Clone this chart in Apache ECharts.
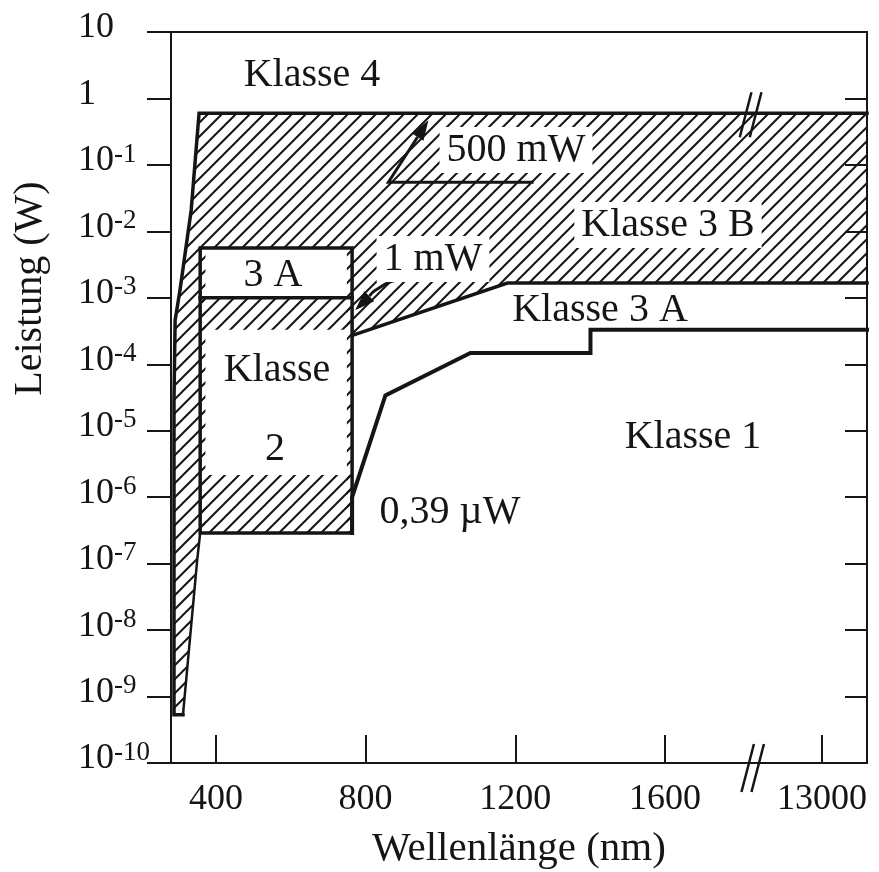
<!DOCTYPE html>
<html>
<head>
<meta charset="utf-8">
<title>Laserklassen</title>
<script src="https://cdn.jsdelivr.net/npm/echarts@6.0.0/dist/echarts.min.js"></script>
<style>
html,body{margin:0;padding:0;background:#ffffff;}
#chart{width:879px;height:872px;}
</style>
</head>
<body>
<div id="chart"></div>
<script>
// ---------------- data: wavelength (nm), power (W) ----------------
const xTickLabels = [400, 800, 1200, 1600, 13000];

// hatched area (class 3 B incl. UV strip)
const klasse3B_nm = [355, 13120, 13120, 1179, 767, 764, 764, 358, 358, 350, 312, 288, 288, 291, 304, 334];
const klasse3B_W  = [0.6, 0.6, 1.67e-3, 1.67e-3, 2.75e-4, 2.75e-4, 5.6e-3, 5.6e-3, 2.9e-7, 1.13e-7, 5.3e-10, 5.3e-10, 2.9e-5, 4.6e-4, 1.3e-3, 0.021];

// upper limit of class 3 B and left (UV) edge
const limit3B_nm = [13120, 355, 334, 304, 291, 288, 288, 312];
const limit3B_W  = [0.6, 0.6, 0.021, 1.3e-3, 4.6e-4, 2.9e-5, 5.3e-10, 5.3e-10];

// lower limit of class 3 B (upper limit of class 3 A)
const limit3A_nm = [13120, 1179, 767];
const limit3A_W  = [1.67e-3, 1.67e-3, 2.75e-4];

// class 1 limit in the UV strip
const limitUV_nm = [358, 350, 312];
const limitUV_W  = [2.9e-7, 1.13e-7, 5.3e-10];

// class 2 / 3 A box (visible)
const box2_nm = [358, 764, 764, 358, 358];
const box2_W  = [5.6e-3, 5.6e-3, 2.9e-7, 2.9e-7, 5.6e-3];
const line1mW_nm = [358, 764];
const line1mW_W  = [1.0e-3, 1.0e-3];

// hatched bands inside the class 2 box
const band2top_nm = [358, 764, 764, 358];
const band2top_W  = [1.0e-3, 1.0e-3, 3.3e-4, 3.3e-4];
const band2bot_nm = [358, 764, 764, 358];
const band2bot_W  = [2.15e-6, 2.15e-6, 2.9e-7, 2.9e-7];
const edgeLeft_nm = [358, 372, 372, 358];
const edgeLeft_W  = [5.6e-3, 5.6e-3, 2.9e-7, 2.9e-7];
const edgeRight_nm = [750, 764, 764, 750];
const edgeRight_W  = [5.6e-3, 5.6e-3, 2.9e-7, 2.9e-7];

// class 1 limit (visible / IR)
const klasse1_nm = [764, 764, 853, 1080, 1401, 1401, 13120];
const klasse1_W  = [2.9e-7, 1.0e-6, 3.4e-5, 1.48e-4, 1.48e-4, 3.3e-4, 3.3e-4];

// annotation leaders
const arrow500_nm = [1249, 861, 968];
const arrow500_W  = [0.055, 0.055, 0.47];
const arrow1mW_nm = [1112, 885, 826, 772];
const arrow1mW_W  = [1.85e-3, 1.85e-3, 1.3e-3, 6.5e-4];

// ---------------- axis break mapping ----------------
const X_MIN = 280, X_MAX_NM = 13120;
const BREAK_SHIFT = 10980;      // nm removed by the axis break
const BREAK_AXIS = 1838;        // axis position of the "//" mark
function toAxis(nm) { return nm > 5000 ? nm - BREAK_SHIFT : nm; }
function fromAxis(v) { return v > BREAK_AXIS ? v + BREAK_SHIFT : v; }

const INK = '#151515';
const FONT = '"Liberation Serif", "DejaVu Serif", serif';

function makeHatch() {
  const s = 14, c = document.createElement('canvas');
  c.width = s; c.height = s;
  const g = c.getContext('2d');
  g.strokeStyle = INK; g.lineWidth = 2; g.lineCap = 'square';
  g.beginPath();
  g.moveTo(0, s); g.lineTo(s, 0);
  g.moveTo(-s / 2, s / 2); g.lineTo(s / 2, -s / 2);
  g.moveTo(s / 2, s * 1.5); g.lineTo(s * 1.5, s / 2);
  g.stroke();
  return c;
}
const HATCH = { image: makeHatch(), repeat: 'repeat' };

function pts(nm, W) { return nm.map((x, i) => [toAxis(x), W[i]]); }

function polySeries(name, nm, W, z) {
  const data = pts(nm, W);
  return {
    type: 'custom', name, data, z, silent: true, encode: { x: 0, y: 1 },
    renderItem(params, api) {
      if (params.dataIndex !== 0) return null;
      return { type: 'polygon', shape: { points: data.map(d => api.coord(d)) },
               style: { fill: HATCH, stroke: null } };
    }
  };
}
function lineSeries(name, nm, W, width, z) {
  return {
    type: 'line', name, data: pts(nm, W), symbol: 'none', silent: true, z,
    lineStyle: { color: INK, width, join: 'miter', cap: 'square' }
  };
}
function arrowSeries(name, nm, W, headLen, headW, smooth) {
  const data = pts(nm, W);
  return {
    type: 'custom', name, data, z: 6, silent: true, encode: { x: 0, y: 1 },
    renderItem(params, api) {
      if (params.dataIndex !== 0) return null;
      const p = data.map(d => api.coord(d));
      const n = p.length, a = p[n - 2], b = p[n - 1];
      const dx = b[0] - a[0], dy = b[1] - a[1], L = Math.hypot(dx, dy);
      const ux = dx / L, uy = dy / L;
      const base = [b[0] - ux * headLen, b[1] - uy * headLen];
      const head = [b, [base[0] - uy * headW / 2, base[1] + ux * headW / 2],
                       [base[0] + uy * headW / 2, base[1] - ux * headW / 2]];
      const line = p.slice(0, n - 1).concat([base]);
      return { type: 'group', children: [
        { type: 'polyline', shape: { points: line, smooth: smooth || 0 },
          style: { stroke: INK, lineWidth: 3, fill: null } },
        { type: 'polygon', shape: { points: head }, style: { fill: INK } }
      ] };
    }
  };
}
function breakSeries() {
  const data = [[BREAK_AXIS, 1e-10], [BREAK_AXIS - 8, 0.6]];
  return {
    type: 'custom', name: 'break', data, z: 8, silent: true, clip: false, encode: { x: 0, y: 1 },
    renderItem(params, api) {
      const c = api.coord(data[params.dataIndex]);
      const bottom = params.dataIndex === 0;
      const up = bottom ? 19 : 21, down = bottom ? 29 : 24;
      const k = 0.26;
      const mk = off => ({ type: 'line',
        shape: { x1: c[0] + off + up * k, y1: c[1] - up, x2: c[0] + off - down * k, y2: c[1] + down },
        style: { stroke: INK, lineWidth: 2.5 } });
      return { type: 'group', children: [mk(-5), mk(5)] };
    }
  };
}

const yRich = {
  b: { fontSize: 36, lineHeight: 40, fontFamily: FONT, color: INK },
  s: { fontSize: 27, lineHeight: 22, fontFamily: FONT, color: INK, verticalAlign: 'top' }
};
function yFormatter(v) {
  const e = Math.round(Math.log10(v));
  if (e === 1) return '{b|10}';
  if (e === 0) return '{b|1}';
  return '{b|10}{s|' + e + '}';
}

function label(text, x, y, bg) {
  const st = { text, font: '40px ' + FONT, fill: INK, align: 'center', verticalAlign: 'middle',
               textAlign: 'center', textVerticalAlign: 'middle' };
  if (bg) { st.backgroundColor = '#ffffff'; st.padding = [3, 7, 3, 7]; }
  return { type: 'text', x, y, z: 100, silent: true, style: st };
}

const chart = echarts.init(document.getElementById('chart'), null, { renderer: 'canvas' });
chart.setOption({
  animation: false,
  backgroundColor: '#ffffff',
  grid: { left: 171, right: 12, top: 32, bottom: 109, containLabel: false, outerBoundsMode: 'none' },
  xAxis: [{
    type: 'value', min: X_MIN, max: toAxis(X_MAX_NM), z: 5,
    name: 'Wellenlänge (nm)', nameLocation: 'middle', nameGap: 66,
    nameTextStyle: { fontSize: 41, fontFamily: FONT, color: INK },
    axisLine: { show: true, onZero: false, lineStyle: { color: INK, width: 2 } },
    axisTick: { show: true, inside: true, length: 28, lineStyle: { color: INK, width: 2 },
                customValues: xTickLabels.map(toAxis) },
    axisLabel: { show: true, margin: 19, fontSize: 36, fontFamily: FONT, color: INK,
                 customValues: xTickLabels.map(toAxis),
                 formatter: v => String(Math.round(fromAxis(v))) },
    splitLine: { show: false }
  }, {
    type: 'value', position: 'top', min: X_MIN, max: toAxis(X_MAX_NM), z: 5,
    axisLine: { show: true, onZero: false, lineStyle: { color: INK, width: 2 } },
    axisTick: { show: false }, axisLabel: { show: false }, splitLine: { show: false }
  }],
  yAxis: [{
    type: 'log', logBase: 10, min: 1e-10, max: 10, interval: 1, z: 5,
    name: 'Leistung (W)', nameLocation: 'middle', nameGap: 121,
    nameTextStyle: { fontSize: 40, fontFamily: FONT, color: INK, padding: [0, 0, 0, 218] },
    axisLine: { show: true, onZero: false, lineStyle: { color: INK, width: 2 } },
    axisTick: { show: true, inside: false, length: 24, lineStyle: { color: INK, width: 2 } },
    axisLabel: { show: true, align: 'left', margin: 93, padding: [0, 0, 8, 0],
                 formatter: yFormatter, rich: yRich },
    splitLine: { show: false }, minorTick: { show: false }
  }, {
    type: 'log', logBase: 10, min: 1e-10, max: 10, interval: 1, position: 'right', z: 5,
    axisLine: { show: true, onZero: false, lineStyle: { color: INK, width: 2 } },
    axisTick: { show: true, inside: true, length: 22, lineStyle: { color: INK, width: 2 } },
    axisLabel: { show: false }, splitLine: { show: false }
  }],
  series: [
    polySeries('Klasse 3 B', klasse3B_nm, klasse3B_W, 1),
    polySeries('Band oben', band2top_nm, band2top_W, 1),
    polySeries('Band unten', band2bot_nm, band2bot_W, 1),
    polySeries('Rand links', edgeLeft_nm, edgeLeft_W, 1),
    polySeries('Rand rechts', edgeRight_nm, edgeRight_W, 1),
    lineSeries('Grenze 3B', limit3B_nm, limit3B_W, 3.5, 3),
    lineSeries('Grenze 3A', limit3A_nm, limit3A_W, 3.5, 3),
    lineSeries('Grenze UV', limitUV_nm, limitUV_W, 2.5, 3),
    lineSeries('Klasse 2', box2_nm, box2_W, 3.5, 3),
    lineSeries('1 mW', line1mW_nm, line1mW_W, 3.5, 3),
    lineSeries('Klasse 1', klasse1_nm, klasse1_W, 4, 3),
    arrowSeries('500 mW Pfeil', arrow500_nm, arrow500_W, 20, 14, 0),
    arrowSeries('1 mW Pfeil', arrow1mW_nm, arrow1mW_W, 20, 14, 0.4),
    breakSeries()
  ],
  graphic: [
    label('Klasse 4', 312, 75, false),
    label('500 mW', 516, 150, true),
    label('Klasse 3 B', 668, 225, true),
    label('1 mW', 433, 259, true),
    label('3 A', 273, 275, false),
    label('Klasse 3 A', 600, 310, false),
    label('Klasse', 277, 370, false),
    label('2', 275, 449, false),
    label('Klasse 1', 693, 437, false),
    label('0,39 µW', 450, 512, false)
  ]
});
</script>
</body>
</html>
